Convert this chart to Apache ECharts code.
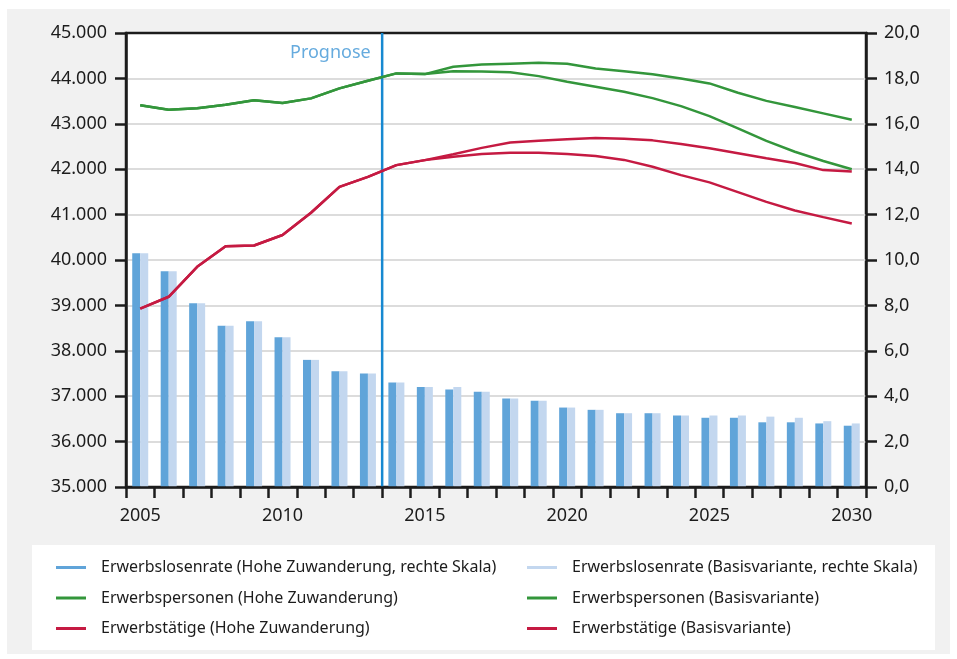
<!DOCTYPE html>
<html>
<head>
<meta charset="utf-8">
<title>Erwerbspersonen und Erwerbstätige</title>
<script src="https://cdn.jsdelivr.net/npm/echarts@6/dist/echarts.min.js"></script>
<style>
  html, body { margin: 0; padding: 0; background: #fff; }
  #container { width: 957px; height: 659px; }
</style>
</head>
<body>
<div id="container"></div>
<script>
// Jahre (Kategorien)
var years = ['2005', '2006', '2007', '2008', '2009', '2010', '2011', '2012', '2013', '2014',
  '2015', '2016', '2017', '2018', '2019', '2020', '2021', '2022', '2023', '2024',
  '2025', '2026', '2027', '2028', '2029', '2030'];

// Erwerbslosenrate in %, rechte Skala
var losenHohe = [10.3, 9.5, 8.1, 7.1, 7.3, 6.6, 5.6, 5.1, 5.0, 4.6, 4.4, 4.3, 4.2, 3.9, 3.8, 3.5,
  3.4, 3.25, 3.25, 3.15, 3.05, 3.05, 2.85, 2.85, 2.8, 2.7];
var losenBasis = [10.3, 9.5, 8.1, 7.1, 7.3, 6.6, 5.6, 5.1, 5.0, 4.6, 4.4, 4.4, 4.2, 3.9, 3.8, 3.5,
  3.4, 3.25, 3.25, 3.15, 3.15, 3.15, 3.1, 3.05, 2.9, 2.8];

// Erwerbspersonen in Tausend
var personenHohe = [43410, 43310, 43345, 43420, 43520, 43460, 43560, 43780, 43950, 44110, 44095,
  44255, 44305, 44325, 44345, 44325, 44220, 44160, 44090, 44000, 43890, 43685, 43505, 43370, 43230, 43090];
var personenBasis = [43410, 43310, 43345, 43420, 43520, 43460, 43560, 43780, 43950, 44110, 44095,
  44160, 44150, 44135, 44050, 43925, 43815, 43705, 43565, 43390, 43170, 42900, 42625, 42385, 42180, 42000];

// Erwerbstätige in Tausend
var taetigeHohe = [38930, 39190, 39850, 40305, 40320, 40550, 41040, 41610, 41830, 42090, 42200,
  42330, 42470, 42590, 42625, 42660, 42685, 42670, 42635, 42555, 42460, 42350, 42240, 42135, 41980, 41950];
var taetigeBasis = [38930, 39190, 39850, 40305, 40320, 40550, 41040, 41610, 41830, 42090, 42200,
  42275, 42335, 42360, 42360, 42335, 42290, 42205, 42055, 41870, 41710, 41495, 41280, 41090, 40945, 40805];

// Beginn der Prognose (zwischen 2013 und 2014)
var prognoseStart = 2013.5;

var names = [
  'Erwerbslosenrate (Hohe Zuwanderung, rechte Skala)',
  'Erwerbslosenrate (Basisvariante, rechte Skala)',
  'Erwerbspersonen (Hohe Zuwanderung)',
  'Erwerbspersonen (Basisvariante)',
  'Erwerbstätige (Hohe Zuwanderung)',
  'Erwerbstätige (Basisvariante)'
];

var FONT = '"Noto Sans", sans-serif';
var INK = '#1c1c1c';
var GREEN = '#33963b';
var RED = '#c51a42';

function legendCol(left, items) {
  return {
    orient: 'vertical',
    left: left,
    top: 559,
    padding: 0,
    itemGap: 13.5,
    icon: 'rect',
    itemWidth: 30,
    itemHeight: 3,
    data: items,
    textStyle: { fontFamily: FONT, fontSize: 16, color: INK, lineHeight: 17, padding: [0, 0, 0, 10] }
  };
}

function lineSeries(name, data, color) {
  return {
    name: name,
    type: 'line',
    yAxisIndex: 0,
    data: data,
    symbol: 'none',
    z: 5,
    lineStyle: { color: color, width: 2.5 },
    itemStyle: { color: color }
  };
}

var dom = document.getElementById('container');
var myChart = echarts.init(dom);

var option = {
  backgroundColor: '#fff',
  animation: false,
  textStyle: { fontFamily: FONT },
  title: {
    text: 'Prognose',
    left: 285,
    top: 39,
    textStyle: { fontFamily: FONT, fontSize: 18, fontWeight: 'normal', color: '#66abde' }
  },
  graphic: [
    { type: 'rect', z: -10, silent: true, shape: { x: 7, y: 9, width: 943, height: 645 }, style: { fill: '#f1f1f1' } },
    { type: 'rect', z: -9, silent: true, shape: { x: 32, y: 545, width: 903, height: 105 }, style: { fill: '#fff' } }
  ],
  legend: [
    legendCol(56, [names[0], names[2], names[4]]),
    legendCol(527, [names[1], names[3], names[5]])
  ],
  grid: {
    left: 126, right: 91, top: 33, bottom: 172,
    show: true,
    backgroundColor: '#fff',
    borderColor: INK,
    borderWidth: 2.5
  },
  xAxis: [{
    type: 'category',
    data: years,
    z: 10,
    axisLine: { lineStyle: { color: INK, width: 2.5 } },
    axisTick: { show: true, interval: 0, length: 11, lineStyle: { color: INK, width: 2.5 } },
    axisLabel: { interval: 4, margin: 20, fontSize: 18, color: INK, fontFamily: FONT }
  }, {
    type: 'value',
    min: 2004.5,
    max: 2030.5,
    show: false
  }],
  yAxis: [{
    type: 'value',
    min: 35000,
    max: 45000,
    interval: 1000,
    axisLine: { show: true, lineStyle: { color: INK, width: 2.5 } },
    axisTick: { show: true, length: 11, lineStyle: { color: INK, width: 2.5 } },
    axisLabel: {
      margin: 19, fontSize: 18, color: INK, fontFamily: FONT,
      formatter: function (v) { return (v / 1000).toFixed(3); }
    },
    splitLine: { showMaxLine: false, showMinLine: false, lineStyle: { color: '#dcdcdc', width: 2 } }
  }, {
    type: 'value',
    min: 0,
    max: 20,
    interval: 2,
    position: 'right',
    axisLine: { show: true, lineStyle: { color: INK, width: 2.5 } },
    axisTick: { show: true, length: 11, lineStyle: { color: INK, width: 2.5 } },
    axisLabel: {
      margin: 18, fontSize: 18, color: INK, fontFamily: FONT,
      formatter: function (v) { return v.toFixed(1).replace('.', ','); }
    },
    splitLine: { show: false }
  }],
  series: [
    {
      name: names[0],
      type: 'bar',
      yAxisIndex: 1,
      data: losenHohe,
      barWidth: 8,
      barGap: '0%',
      itemStyle: { color: '#60a4d9' }
    },
    {
      name: names[1],
      type: 'bar',
      yAxisIndex: 1,
      data: losenBasis,
      barWidth: 8,
      barGap: '0%',
      itemStyle: { color: '#c3d7ef' }
    },
    lineSeries(names[2], personenHohe, GREEN),
    lineSeries(names[3], personenBasis, GREEN),
    lineSeries(names[4], taetigeHohe, RED),
    lineSeries(names[5], taetigeBasis, RED),
    {
      name: 'Prognose',
      type: 'line',
      xAxisIndex: 1,
      yAxisIndex: 0,
      data: [[prognoseStart, 35000], [prognoseStart, 45000]],
      symbol: 'none',
      z: 4,
      lineStyle: { color: '#1789d1', width: 2.5 }
    }
  ]
};

myChart.setOption(option);
</script>
</body>
</html>
